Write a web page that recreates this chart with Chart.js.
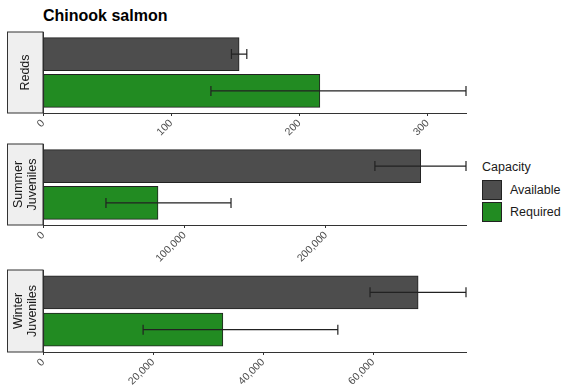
<!DOCTYPE html>
<html>
<head>
<meta charset="utf-8">
<script src="https://cdn.jsdelivr.net/npm/chart.js@4.4.0/dist/chart.umd.min.js"></script>
<style>
  html, body { margin: 0; padding: 0; background: #fff; }
  body { width: 566px; height: 389px; position: relative; overflow: hidden; font-family: "Liberation Sans", Arial, sans-serif; }
  canvas { position: absolute; left: 0; top: 0; }
  #title { position: absolute; left: 43px; top: 7px; font-weight: bold; font-size: 16px; color: #000; }
  #legend { position: absolute; left: 482px; top: 159px; font-size: 12.5px; color: #1a1a1a; }
  #legend .lt { height: 20px; line-height: 16px; }
  #legend .row { height: 22px; line-height: 22px; display: flex; align-items: center; }
  #legend .key { width: 20px; height: 20px; border: 1px solid #222; margin-right: 8px; box-sizing: border-box; }
</style>
</head>
<body>
<div id="title">Chinook salmon</div>
<div id="legend"></div>
<script>
// series
var series = ['Available', 'Required'];
var seriesColors = ['#4d4d4d', '#228b22'];
var legendTitle = 'Capacity';

// facets
var panelNames = [['Redds'], ['Summer', 'Juveniles'], ['Winter', 'Juveniles']];

var reddsValues = [153, 216];
var reddsLow = [147, 131];
var reddsHigh = [159, 330];
var reddsTicks = [0, 100, 200, 300];

var summerValues = [267000, 81300];
var summerLow = [234600, 44500];
var summerHigh = [299000, 132900];
var summerTicks = [0, 100000, 200000];

var winterValues = [68200, 32700];
var winterLow = [59450, 18200];
var winterHigh = [76900, 53600];
var winterTicks = [0, 20000, 40000, 60000];

// legend
var legendEl = document.getElementById('legend');
var lt = document.createElement('div');
lt.className = 'lt';
lt.textContent = legendTitle;
legendEl.appendChild(lt);
series.forEach(function(name, i) {
    var row = document.createElement('div');
    row.className = 'row';
    var key = document.createElement('span');
    key.className = 'key';
    key.style.background = seriesColors[i];
    row.appendChild(key);
    row.appendChild(document.createTextNode(name));
    legendEl.appendChild(row);
});

var errorBars = {
    id: 'errorBars',
    afterDatasetsDraw: function(chart) {
        var ctx = chart.ctx;
        var xs = chart.scales.x;
        var ds = chart.data.datasets[0];
        var meta = chart.getDatasetMeta(0);
        ctx.save();
        ctx.strokeStyle = '#222';
        ctx.lineWidth = 1.2;
        meta.data.forEach(function(bar, i) {
            var x1 = xs.getPixelForValue(ds.errLow[i]);
            var x2 = xs.getPixelForValue(ds.errHigh[i]);
            var y = bar.y;
            ctx.beginPath();
            ctx.moveTo(x1, y); ctx.lineTo(x2, y);
            ctx.moveTo(x1, y - 5); ctx.lineTo(x1, y + 5);
            ctx.moveTo(x2, y - 5); ctx.lineTo(x2, y + 5);
            ctx.stroke();
        });
        ctx.restore();
    }
};

var strip = {
    id: 'strip',
    afterDraw: function(chart, args, opts) {
        var ctx = chart.ctx;
        var a = chart.chartArea;
        var left = 7.5, w = a.left - 7.5;
        ctx.save();
        ctx.fillStyle = '#efefef';
        ctx.strokeStyle = '#333';
        ctx.lineWidth = 1;
        ctx.fillRect(left, a.top, w, a.bottom - a.top);
        ctx.strokeRect(left, a.top, w, a.bottom - a.top);
        ctx.translate(left + w / 2, (a.top + a.bottom) / 2);
        ctx.rotate(-Math.PI / 2);
        ctx.fillStyle = '#1a1a1a';
        ctx.font = '12.5px "Liberation Sans", Arial, sans-serif';
        ctx.textAlign = 'center';
        ctx.textBaseline = 'middle';
        var lines = opts.lines;
        var lh = 14;
        lines.forEach(function(t, j) {
            ctx.fillText(t, 0, (j - (lines.length - 1) / 2) * lh);
        });
        ctx.restore();
    }
};

function makePanel(idx, values, lows, highs, ticks, top, bottom) {
    var canvas = document.createElement('canvas');
    canvas.width = 566;
    canvas.height = 389;
    document.body.appendChild(canvas);
    var axisH = 40;
    new Chart(canvas, {
        type: 'bar',
        data: {
            datasets: [{
                data: values.map(function(v, i) { return { x: v, y: i + 1 }; }),
                backgroundColor: seriesColors,
                borderColor: '#222',
                borderWidth: 1,
                borderSkipped: false,
                barThickness: 33,
                errLow: lows,
                errHigh: highs
            }]
        },
        options: {
            indexAxis: 'y',
            responsive: false,
            animation: false,
            events: [],
            layout: { padding: { left: 43, right: 100, top: top, bottom: 389 - bottom - axisH } },
            plugins: {
                legend: { display: false },
                tooltip: { enabled: false },
                strip: { lines: panelNames[idx] }
            },
            scales: {
                x: {
                    type: 'linear',
                    min: 0,
                    max: Math.max.apply(null, highs),
                    afterBuildTicks: function(s) { s.ticks = ticks.map(function(v) { return { value: v }; }); },
                    afterFit: function(s) { s.height = axisH; },
                    grid: { display: true, drawOnChartArea: false, drawTicks: true, tickLength: 3, color: '#333' },
                    border: { display: true, color: '#333', width: 1 },
                    ticks: {
                        minRotation: 45,
                        maxRotation: 45,
                        autoSkip: false,
                        padding: 1,
                        color: '#4d4d4d',
                        font: { size: 10.5, family: '"Liberation Sans", Arial, sans-serif' },
                        callback: function(v) { return Number(v).toLocaleString('en-US'); }
                    }
                },
                y: {
                    type: 'linear',
                    offset: false,
                    min: 0.4,
                    max: 2.6,
                    reverse: true,
                    afterFit: function(s) { s.width = 0; },
                    ticks: { display: false },
                    grid: { display: false },
                    border: { display: true, color: '#333', width: 1 }
                }
            }
        },
        plugins: [errorBars, strip]
    });
}

makePanel(0, reddsValues, reddsLow, reddsHigh, reddsTicks, 32, 113);
makePanel(1, summerValues, summerLow, summerHigh, summerTicks, 144, 225);
makePanel(2, winterValues, winterLow, winterHigh, winterTicks, 270, 352);
</script>
</body>
</html>
